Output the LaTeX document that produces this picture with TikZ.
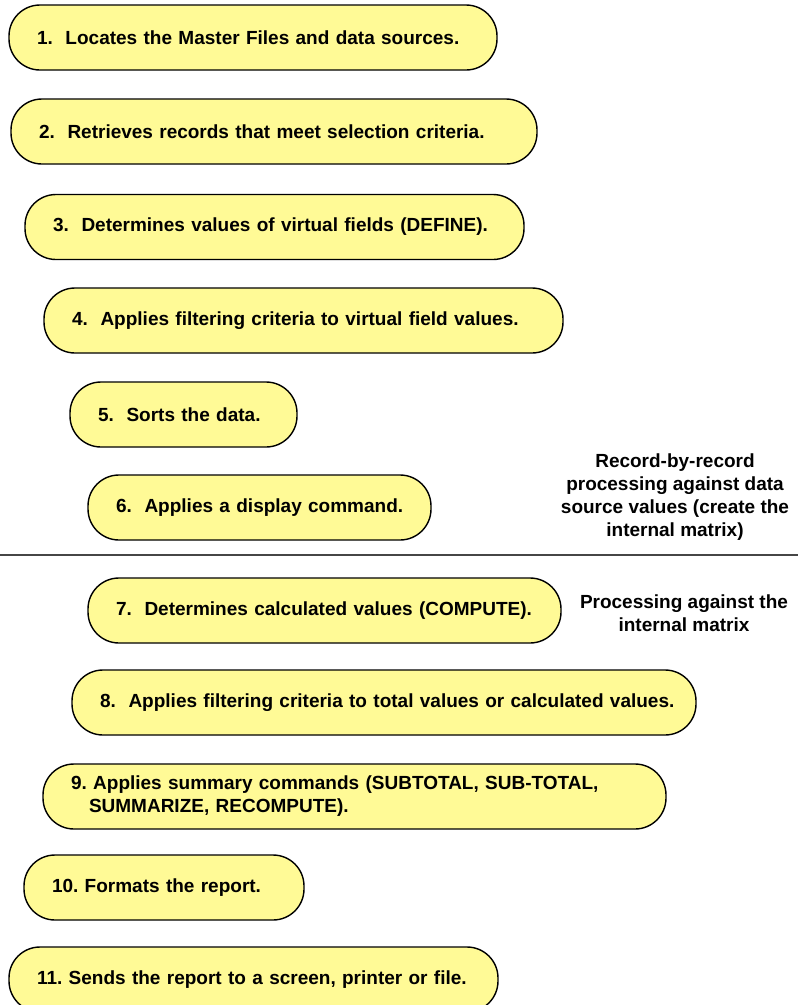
\documentclass[tikz,border=0pt]{standalone}
\usepackage{fontspec}
\setmainfont{Liberation Sans}
\usepackage{tikz}
\usetikzlibrary{positioning}
\definecolor{stepyellow}{RGB}{255,250,150}
\definecolor{rulegray}{RGB}{70,70,70}
\newcommand{\stepfont}{\fontsize{19}{23}\selectfont\bfseries}
\tikzstyle{stepbox}=[draw=black, line width=1.4pt, fill=stepyellow, rounded corners=31pt, minimum height=65pt, inner xsep=28pt, inner ysep=0pt, align=left, font=\stepfont]
\tikzstyle{sidenote}=[align=center, font=\stepfont, inner sep=0pt]

\begin{document}
\begin{tikzpicture}[x=1pt,y=-1pt]
	\useasboundingbox (0,0) rectangle (798,1005);
	\clip (0,0) rectangle (798,1005);
	\node[stepbox, text width=432pt] (s1) at (253,37.5) {1.\ \ Locates the Master Files and data sources.};
	\node[stepbox, text width=470pt] (s2) at (274,131.5) {2.\ \ Retrieves records that meet selection criteria.};
	\node[stepbox, text width=443pt] (s3) at (274.5,227) {3.\ \ Determines values of virtual fields (DEFINE).};
	\node[stepbox, text width=463pt] (s4) at (303.5,320.5) {4.\ \ Applies filtering criteria to virtual field values.};
	\node[stepbox, text width=171pt] (s5) at (183.5,414.5) {5.\ \ Sorts the data.};
	\node[stepbox, text width=287pt] (s6) at (259.5,507.5) {\mbox{6.\ \ Applies a display command.}};
	\draw[rulegray, line width=1.6pt] (0,555) coordinate (ruleL) -- (798,555) coordinate (ruleR);
	\node[stepbox, text width=417pt] (s7) at (324.5,610.5) {7.\ \ Determines calculated values (COMPUTE).};
	\node[stepbox, text width=568pt] (s8) at (384,702.5) {\mbox{8.\ \ Applies filtering criteria to total values or calculated values.}};
	\node[stepbox, text width=567pt] (s9) at (354.5,796.5) {9.\ Applies summary commands (SUBTOTAL, SUB-TOTAL,\\\hspace*{18pt}SUMMARIZE, RECOMPUTE).};
	\node[stepbox, text width=224pt] (s10) at (164,887.5) {10.\ Formats the report.};
	\node[stepbox, text width=433pt] (s11) at (253.5,979.5) {11.\ Sends the report to a screen, printer or file.};
	\node[sidenote] (recnote) at (675,497) {Record-by-record\\processing against data\\source values (create the\\internal matrix)};
	\node[sidenote] (matnote) at (684,613.5) {Processing against the\\internal matrix};
\end{tikzpicture}
\end{document}
